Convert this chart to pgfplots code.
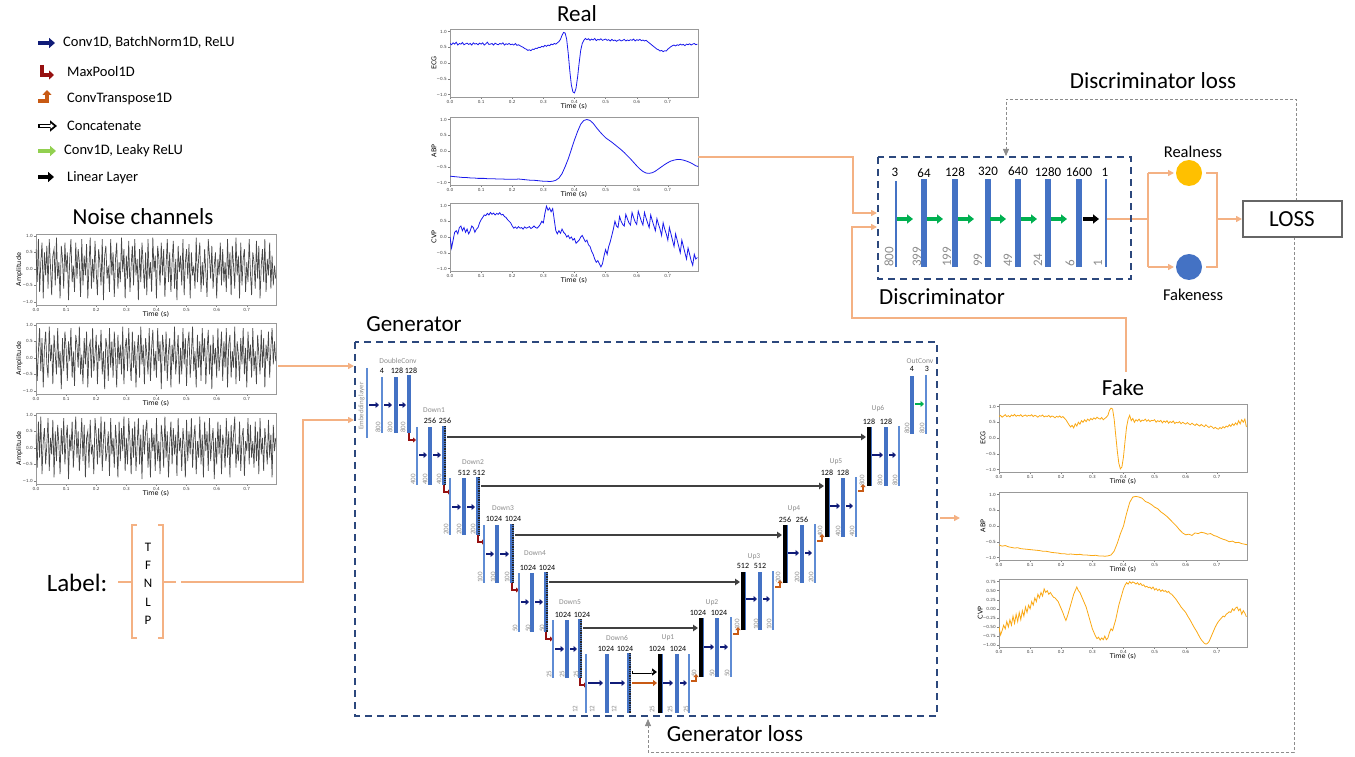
\documentclass[border=0pt]{standalone}
\usepackage{pgfplots}
\pgfplotsset{compat=1.18}
\usepackage{pgfplotstable}
\usepackage{fontspec}
\setmainfont{Carlito}
\newfontfamily\mpl{DejaVu Sans}
\usetikzlibrary{arrows.meta}

\definecolor{navy}{RGB}{16,28,120}
\definecolor{maxred}{RGB}{150,16,16}
\definecolor{ctorange}{RGB}{200,90,20}
\definecolor{lgreen}{RGB}{146,208,80}
\definecolor{dgreen}{RGB}{0,176,80}
\definecolor{barblue}{RGB}{68,114,196}
\definecolor{thinblue}{RGB}{95,140,212}
\definecolor{peach}{RGB}{244,177,131}
\definecolor{boxblue}{RGB}{44,72,125}
\definecolor{skipgray}{RGB}{64,64,64}
\definecolor{lossgray}{RGB}{140,140,140}
\definecolor{realblue}{RGB}{25,25,235}
\definecolor{fakeorange}{RGB}{250,168,20}
\definecolor{sunny}{RGB}{255,192,0}

% ---------- noise channels (uniform noise, 250 Hz) ----------
\pgfplotstableread[row sep=\\,header=false]{
0.6\\-0.4\\0.9\\-0.7\\0.2\\0.8\\-0.9\\0.5\\-0.2\\0.7\\-0.6\\0.9\\0.1\\-0.8\\0.4\\0.6\\-0.5\\0.95\\-0.3\\0.2\\
-0.9\\0.7\\0.3\\-0.6\\0.8\\-0.1\\0.5\\-0.95\\0.3\\0.9\\-0.4\\0.1\\-0.7\\0.8\\-0.3\\0.6\\0.2\\-0.85\\0.9\\-0.5\\
0.4\\-0.2\\0.75\\-0.9\\0.1\\0.95\\-0.6\\0.3\\-0.4\\0.85\\-0.1\\-0.8\\0.6\\0.2\\-0.5\\0.9\\-0.95\\0.4\\0.7\\-0.3\\
0.1\\-0.7\\0.9\\-0.2\\0.5\\-0.85\\0.3\\0.8\\-0.6\\0.2\\-0.4\\0.95\\-0.1\\0.6\\-0.9\\0.4\\-0.3\\0.85\\-0.7\\0.1\\
0.7\\-0.5\\0.9\\-0.2\\0.3\\-0.95\\0.6\\-0.4\\0.8\\0.1\\-0.6\\0.5\\-0.8\\0.9\\-0.3\\0.2\\-0.7\\0.95\\-0.1\\0.4\\
-0.9\\0.7\\0.3\\-0.5\\0.8\\-0.2\\0.6\\-0.85\\0.1\\0.9\\-0.4\\0.5\\-0.7\\0.2\\0.85\\-0.6\\0.3\\-0.95\\0.7\\-0.1\\
0.4\\-0.5\\0.9\\-0.8\\0.2\\0.6\\-0.3\\0.75\\-0.9\\0.5\\-0.2\\0.1\\-0.6\\0.95\\-0.4\\0.3\\0.8\\-0.7\\0.2\\-0.5\\
0.6\\-0.1\\-0.85\\0.9\\0.4\\-0.3\\0.7\\-0.6\\0.1\\0.5\\-0.9\\0.3\\-0.2\\0.8\\-0.5\\0.6\\-0.4\\0.2\\-0.7\\0.9\\
-0.3\\0.5\\-0.8\\0.7\\0.1\\-0.6\\0.95\\-0.2\\0.4\\-0.9\\0.8\\-0.5\\0.3\\0.6\\-0.7\\0.2\\-0.4\\0.9\\-0.1\\-0.8\\
0.5\\0.2\\-0.6\\0.85\\-0.3\\0.7\\-0.9\\0.1\\0.6\\-0.4\\0.9\\-0.7\\0.3\\-0.2\\0.8\\-0.6\\0.4\\-0.5\\0.1\\-0.3\\
}\noiseA
\pgfplotstableread[row sep=\\,header=false]{
0.5\\-0.7\\0.2\\0.9\\-0.4\\0.6\\-0.9\\0.3\\0.8\\-0.2\\-0.6\\0.95\\-0.1\\0.4\\-0.8\\0.7\\0.1\\-0.5\\0.9\\-0.3\\
0.2\\-0.95\\0.6\\-0.4\\0.8\\0.3\\-0.7\\0.5\\-0.1\\0.9\\-0.6\\0.2\\-0.85\\0.7\\0.4\\-0.3\\0.95\\-0.5\\0.1\\-0.8\\
0.6\\-0.2\\0.8\\-0.9\\0.3\\0.5\\-0.6\\0.9\\-0.4\\0.1\\0.7\\-0.8\\0.4\\-0.1\\0.85\\-0.5\\0.2\\-0.95\\0.6\\0.3\\
-0.7\\0.9\\-0.3\\0.5\\-0.6\\0.8\\0.1\\-0.9\\0.7\\-0.2\\0.4\\-0.5\\0.95\\-0.8\\0.3\\0.6\\-0.4\\0.9\\-0.1\\-0.7\\
0.8\\-0.3\\0.5\\-0.9\\0.2\\0.7\\-0.6\\0.95\\-0.2\\0.4\\-0.8\\0.6\\0.1\\-0.5\\0.9\\-0.7\\0.3\\0.85\\-0.4\\0.2\\
-0.6\\0.9\\-0.1\\0.5\\-0.95\\0.7\\0.3\\-0.4\\0.8\\-0.7\\0.2\\0.6\\-0.9\\0.4\\-0.2\\0.95\\-0.5\\0.1\\0.7\\-0.8\\
0.3\\-0.5\\0.9\\-0.2\\0.6\\-0.85\\0.4\\0.8\\-0.6\\0.1\\0.95\\-0.4\\0.2\\-0.9\\0.7\\-0.3\\0.5\\-0.7\\0.9\\-0.1\\
0.6\\-0.8\\0.2\\0.85\\-0.5\\0.4\\-0.95\\0.7\\-0.2\\0.3\\-0.6\\0.9\\-0.4\\0.1\\0.8\\-0.7\\0.5\\-0.3\\0.9\\-0.9\\
0.4\\0.7\\-0.6\\0.2\\-0.3\\0.95\\-0.8\\0.5\\0.1\\-0.7\\0.6\\-0.2\\0.9\\-0.5\\0.3\\-0.9\\0.8\\-0.1\\0.4\\-0.6\\
0.9\\-0.4\\0.2\\-0.8\\0.7\\0.1\\-0.5\\0.85\\-0.3\\0.6\\-0.9\\0.4\\-0.1\\0.8\\-0.6\\0.3\\0.9\\-0.2\\0.5\\-0.1\\
}\noiseB
\pgfplotstableread[row sep=\\,header=false]{
0.4\\-0.6\\0.8\\-0.3\\0.95\\-0.8\\0.2\\0.6\\-0.5\\0.1\\0.9\\-0.7\\0.3\\-0.2\\0.85\\-0.9\\0.5\\-0.4\\0.7\\0.1\\
-0.8\\0.6\\-0.2\\0.9\\-0.5\\0.3\\0.7\\-0.95\\0.4\\-0.1\\0.8\\-0.6\\0.2\\0.95\\-0.3\\0.5\\-0.7\\0.1\\0.9\\-0.4\\
0.7\\-0.9\\0.3\\0.5\\-0.6\\0.85\\-0.2\\0.1\\-0.8\\0.9\\0.4\\-0.5\\0.6\\-0.3\\0.95\\-0.7\\0.2\\0.8\\-0.4\\-0.1\\
0.5\\-0.85\\0.9\\-0.2\\0.3\\-0.6\\0.7\\0.1\\-0.9\\0.8\\-0.4\\0.6\\-0.1\\0.95\\-0.7\\0.3\\-0.5\\0.9\\0.2\\-0.8\\
0.6\\-0.3\\0.8\\-0.7\\0.1\\0.9\\-0.5\\0.4\\-0.95\\0.7\\-0.2\\0.5\\0.85\\-0.6\\0.3\\-0.9\\0.6\\-0.1\\0.4\\-0.7\\
0.9\\-0.4\\0.2\\-0.8\\0.7\\0.3\\-0.6\\0.95\\-0.3\\0.5\\-0.9\\0.1\\0.8\\-0.5\\0.6\\-0.2\\0.4\\-0.85\\0.9\\-0.1\\
0.3\\-0.7\\0.6\\0.1\\-0.9\\0.85\\-0.4\\0.5\\-0.2\\0.9\\-0.6\\0.3\\0.7\\-0.8\\0.2\\-0.3\\0.95\\-0.5\\0.4\\-0.9\\
0.8\\-0.1\\0.5\\-0.7\\0.9\\-0.4\\0.2\\0.6\\-0.95\\0.3\\-0.5\\0.8\\-0.2\\0.7\\-0.8\\0.4\\0.1\\-0.6\\0.9\\-0.3\\
0.5\\-0.9\\0.7\\-0.2\\0.4\\0.95\\-0.6\\0.1\\-0.4\\0.8\\-0.7\\0.3\\0.6\\-0.85\\0.2\\-0.1\\0.9\\-0.5\\0.7\\-0.3\\
0.2\\-0.6\\0.8\\-0.4\\0.5\\-0.8\\0.9\\-0.2\\0.3\\-0.7\\0.6\\0.1\\-0.5\\0.85\\-0.3\\0.4\\-0.9\\0.7\\-0.1\\0.3\\
}\noiseC

% ---------- real signals ----------
% ECG, 200 Hz
\pgfplotstableread[row sep=\\,header=false]{
0.62\\0.58\\0.64\\0.6\\0.66\\0.57\\0.62\\0.6\\0.65\\0.58\\0.61\\0.63\\0.59\\0.62\\0.57\\0.64\\0.6\\0.62\\0.58\\0.63\\
0.6\\0.64\\0.57\\0.61\\0.66\\0.59\\0.6\\0.62\\0.57\\0.63\\0.6\\0.58\\0.62\\0.6\\0.64\\0.57\\0.61\\0.59\\0.62\\0.58\\
0.6\\0.57\\0.62\\0.56\\0.58\\0.55\\0.52\\0.5\\0.46\\0.44\\0.4\\0.42\\0.39\\0.44\\0.43\\0.47\\0.46\\0.5\\0.49\\0.53\\
0.51\\0.56\\0.53\\0.57\\0.55\\0.6\\0.58\\0.62\\0.6\\0.64\\0.68\\0.75\\0.88\\0.97\\0.95\\0.75\\0.3\\-0.25\\-0.7\\-0.92\\
-0.95\\-0.8\\-0.45\\0.0\\0.4\\0.62\\0.72\\0.78\\0.74\\0.77\\0.72\\0.76\\0.73\\0.78\\0.71\\0.75\\0.73\\0.77\\0.72\\0.74\\
0.76\\0.72\\0.74\\0.7\\0.75\\0.71\\0.73\\0.69\\0.72\\0.74\\0.7\\0.72\\0.75\\0.7\\0.73\\0.71\\0.74\\0.72\\0.76\\0.7\\
0.74\\0.72\\0.75\\0.71\\0.73\\0.7\\0.72\\0.68\\0.64\\0.6\\0.56\\0.52\\0.48\\0.44\\0.42\\0.38\\0.4\\0.36\\0.39\\0.38\\
0.44\\0.48\\0.52\\0.55\\0.57\\0.54\\0.58\\0.56\\0.6\\0.57\\0.59\\0.55\\0.6\\0.58\\0.61\\0.57\\0.6\\0.62\\0.58\\0.6\\
}\realECG
% ABP, 100 Hz
\pgfplotstableread[row sep=\\,header=false]{
-0.8\\-0.81\\-0.82\\-0.83\\-0.84\\-0.84\\-0.85\\-0.86\\-0.86\\-0.87\\-0.87\\-0.87\\-0.88\\-0.88\\-0.88\\-0.89\\-0.89\\-0.89\\-0.9\\-0.9\\
-0.9\\-0.9\\-0.89\\-0.9\\-0.91\\-0.92\\-0.93\\-0.93\\-0.94\\-0.95\\-0.96\\-0.96\\-0.97\\-0.96\\-0.93\\-0.86\\-0.72\\-0.5\\-0.25\\0.05\\
0.35\\0.62\\0.85\\0.97\\1.0\\0.97\\0.88\\0.75\\0.63\\0.52\\0.42\\0.35\\0.28\\0.2\\0.12\\0.04\\-0.05\\-0.15\\-0.25\\-0.36\\
-0.47\\-0.57\\-0.65\\-0.7\\-0.71\\-0.69\\-0.64\\-0.57\\-0.5\\-0.43\\-0.37\\-0.32\\-0.29\\-0.27\\-0.27\\-0.29\\-0.32\\-0.36\\-0.41\\-0.47\\
-0.5\\
}\realABP
% CVP, 200 Hz
\pgfplotstableread[row sep=\\,header=false]{
0.0\\-0.35\\-0.1\\0.15\\0.2\\0.1\\0.3\\0.35\\0.2\\0.3\\0.15\\0.25\\0.1\\0.2\\0.35\\0.3\\0.15\\0.25\\0.3\\0.45\\
0.55\\0.62\\0.7\\0.68\\0.75\\0.7\\0.78\\0.72\\0.76\\0.7\\0.75\\0.72\\0.77\\0.7\\0.72\\0.65\\0.62\\0.55\\0.5\\0.45\\
0.35\\0.28\\0.32\\0.27\\0.33\\0.28\\0.3\\0.25\\0.32\\0.28\\0.3\\0.33\\0.27\\0.3\\0.35\\0.3\\0.28\\0.33\\0.4\\0.5\\
0.45\\0.75\\0.98\\0.85\\0.92\\0.8\\0.9\\0.55\\0.2\\0.1\\0.2\\0.12\\0.25\\0.15\\0.1\\0.0\\0.05\\-0.05\\0.0\\-0.1\\
-0.05\\-0.2\\-0.15\\-0.1\\0.0\\0.05\\-0.05\\-0.15\\-0.1\\-0.25\\-0.3\\-0.45\\-0.55\\-0.7\\-0.8\\-0.75\\-0.85\\-0.95\\-0.85\\-0.6\\
-0.4\\-0.55\\-0.3\\-0.15\\0.05\\0.25\\0.5\\0.35\\0.3\\0.65\\0.5\\0.4\\0.35\\0.72\\0.58\\0.45\\0.38\\0.78\\0.62\\0.48\\
0.4\\0.82\\0.66\\0.5\\0.38\\0.78\\0.6\\0.45\\0.3\\0.7\\0.52\\0.36\\0.2\\0.58\\0.4\\0.25\\0.05\\0.45\\0.25\\0.1\\
-0.1\\0.3\\0.1\\-0.1\\-0.3\\0.1\\-0.1\\-0.3\\-0.5\\-0.1\\-0.3\\-0.5\\-0.7\\-0.35\\-0.55\\-0.75\\-0.9\\-0.55\\-0.7\\-0.65\\
}\realCVP

% ---------- generated signals ----------
\pgfplotstableread[row sep=\\,header=false]{
0.68\\0.72\\0.66\\0.7\\0.74\\0.68\\0.71\\0.67\\0.73\\0.7\\0.75\\0.69\\0.72\\0.7\\0.74\\0.68\\0.71\\0.73\\0.69\\0.72\\
0.7\\0.74\\0.68\\0.72\\0.7\\0.66\\0.71\\0.69\\0.73\\0.67\\0.7\\0.68\\0.72\\0.66\\0.7\\0.68\\0.64\\0.69\\0.66\\0.7\\
0.65\\0.68\\0.63\\0.58\\0.5\\0.42\\0.35\\0.4\\0.32\\0.45\\0.38\\0.5\\0.44\\0.55\\0.5\\0.58\\0.52\\0.6\\0.55\\0.62\\
0.58\\0.64\\0.6\\0.66\\0.62\\0.6\\0.65\\0.58\\0.62\\0.66\\0.72\\0.88\\0.95\\0.92\\0.6\\0.1\\-0.4\\-0.8\\-0.98\\-0.92\\
-0.6\\-0.1\\0.35\\0.6\\0.72\\0.55\\0.62\\0.5\\0.58\\0.54\\0.6\\0.52\\0.57\\0.55\\0.6\\0.53\\0.58\\0.52\\0.56\\0.55\\
0.58\\0.5\\0.55\\0.52\\0.56\\0.48\\0.54\\0.5\\0.55\\0.47\\0.52\\0.49\\0.54\\0.46\\0.5\\0.48\\0.52\\0.45\\0.5\\0.47\\
0.44\\0.49\\0.45\\0.42\\0.47\\0.43\\0.4\\0.45\\0.41\\0.38\\0.43\\0.39\\0.36\\0.42\\0.37\\0.33\\0.38\\0.35\\0.3\\0.34\\
0.3\\0.28\\0.33\\0.3\\0.36\\0.32\\0.38\\0.35\\0.42\\0.37\\0.45\\0.4\\0.48\\0.42\\0.55\\0.45\\0.58\\0.5\\0.6\\0.35\\
}\fakeECG
\pgfplotstableread[row sep=\\,header=false]{
-0.6\\-0.64\\-0.62\\-0.66\\-0.68\\-0.7\\-0.69\\-0.72\\-0.73\\-0.74\\-0.75\\-0.76\\-0.77\\-0.78\\-0.8\\-0.8\\-0.82\\-0.84\\-0.85\\-0.86\\
-0.88\\-0.88\\-0.9\\-0.89\\-0.9\\-0.91\\-0.9\\-0.92\\-0.92\\-0.93\\-0.94\\-0.93\\-0.95\\-0.95\\-0.96\\-0.95\\-0.92\\-0.8\\-0.55\\-0.25\\
0.0\\0.4\\0.75\\0.92\\0.94\\0.92\\0.88\\0.78\\0.74\\0.68\\0.6\\0.55\\0.45\\0.38\\0.3\\0.2\\0.1\\0.0\\-0.12\\-0.22\\
-0.28\\-0.26\\-0.3\\-0.22\\-0.24\\-0.2\\-0.22\\-0.26\\-0.24\\-0.3\\-0.33\\-0.38\\-0.42\\-0.45\\-0.5\\-0.48\\-0.53\\-0.52\\-0.56\\-0.58\\
-0.6\\
}\fakeABP
\pgfplotstableread[row sep=\\,header=false]{
-0.5\\-0.72\\-0.6\\-0.45\\-0.55\\-0.35\\-0.5\\-0.3\\-0.45\\-0.2\\-0.4\\-0.15\\-0.35\\-0.1\\-0.3\\-0.05\\-0.2\\0.05\\-0.1\\0.1\\
0.0\\0.2\\0.1\\0.3\\0.2\\0.4\\0.3\\0.45\\0.35\\0.55\\0.45\\0.5\\0.4\\0.45\\0.38\\0.32\\0.3\\0.25\\0.2\\0.1\\
0.0\\-0.1\\-0.22\\-0.32\\-0.2\\-0.05\\0.1\\0.25\\0.4\\0.5\\0.6\\0.5\\0.45\\0.35\\0.25\\0.15\\0.05\\-0.1\\-0.25\\-0.4\\
-0.55\\-0.65\\-0.75\\-0.82\\-0.78\\-0.86\\-0.8\\-0.85\\-0.75\\-0.85\\-0.8\\-0.65\\-0.55\\-0.6\\-0.45\\-0.3\\-0.1\\0.1\\0.25\\0.4\\
0.55\\0.65\\0.72\\0.68\\0.75\\0.7\\0.74\\0.72\\0.68\\0.72\\0.66\\0.7\\0.64\\0.66\\0.6\\0.62\\0.58\\0.6\\0.55\\0.6\\
0.52\\0.56\\0.5\\0.54\\0.48\\0.52\\0.48\\0.5\\0.45\\0.48\\0.42\\0.4\\0.35\\0.3\\0.25\\0.18\\0.12\\0.05\\0.0\\-0.05\\
-0.1\\-0.18\\-0.25\\-0.32\\-0.4\\-0.48\\-0.55\\-0.62\\-0.7\\-0.78\\-0.85\\-0.9\\-0.95\\-0.97\\-0.95\\-0.9\\-0.8\\-0.7\\-0.6\\-0.5\\
-0.42\\-0.35\\-0.3\\-0.25\\-0.2\\-0.22\\-0.15\\-0.12\\-0.08\\-0.1\\0.0\\-0.05\\0.02\\0.05\\-0.05\\0.0\\-0.15\\-0.05\\-0.12\\-0.22\\
}\fakeCVP

\pgfplotsset{
  mplax/.style={
    scale only axis, width=248pt, height=68pt, anchor=south west,
    xmin=0, xmax=0.797, ymin=-1.08, ymax=1.08,
    axis line style={black!40, line width=0.5pt},
    tick style={black!50, line width=0.4pt},
    major tick length=1.6pt, tick align=outside,
    xtick pos=bottom, ytick pos=left,
    xtick={0,0.1,0.2,0.3,0.4,0.5,0.6,0.7},
    xticklabels={0.0,0.1,0.2,0.3,0.4,0.5,0.6,0.7},
    ytick={-1,-0.5,0,0.5,1},
    yticklabels={−1.0,−0.5,0.0,0.5,1.0},
    tick label style={font=\mpl\fontsize{4.2}{5}\selectfont, text=black!75, inner sep=1.5pt},
    xlabel={Time (s)},
    xlabel style={font=\mpl\fontsize{6.5}{7}\selectfont, yshift=5pt},
    ylabel style={font=\mpl\fontsize{6.5}{7}\selectfont, yshift=-5pt},
  },
}

\newcommand{\numf}{\fontsize{8}{9}\selectfont}
\newcommand{\stgf}{\fontsize{7.5}{8}\selectfont}
\newcommand{\dimf}{\fontsize{7}{8}\selectfont}
% generator building blocks (x, top, bottom)
\newcommand{\tb}[3]{\draw[thinblue, line width=1.3pt] (#1,#2)--(#1,#3);}
\newcommand{\kb}[3]{\fill[barblue] (#1-2.3,#2) rectangle (#1+2.3,#3);}
\newcommand{\db}[3]{\fill[barblue] (#1-2.3,#2) rectangle (#1+2.3,#3);
  \draw[black!85, line width=1.5pt, dash pattern=on 0.9pt off 0.9pt] (#1+1,#2)--(#1+1,#3);}
\newcommand{\bb}[3]{\fill[black] (#1-2.5,#2) rectangle (#1+1.5,#3);
  \fill[barblue] (#1+1.5,#2) rectangle (#1+2.8,#3);}
% arrows
\newcommand{\na}[3]{\draw[navy, line width=2pt, -{Triangle[length=3.5pt,width=6pt]}] (#1,#3)--(#2,#3);}
\newcommand{\mpool}[2]{\draw[maxred, line width=1.8pt, -{Triangle[length=3pt,width=5pt]}] (#1,#2)--(#1,#2+7)--(#1+7,#2+7);}
\newcommand{\ctr}[2]{\draw[ctorange, line width=1.8pt, -{Triangle[length=3pt,width=5pt]}] (#1,#2)--(#1+5,#2)--(#1+5,#2-7);}
\newcommand{\skipar}[3]{\draw[skipgray, line width=2.2pt, -{Triangle[length=5pt,width=6.5pt]}] (#1,#2)--(#3,#2);}
% labels
\newcommand{\dimlab}[3]{\node[rotate=90, anchor=west, font=\dimf, text=black!45, inner sep=0pt] at (#1,#2) {#3};}
\newcommand{\num}[3]{\node[font=\numf, inner sep=0pt] at (#1,#2) {#3};}
\newcommand{\stg}[3]{\node[font=\stgf, text=black!45, inner sep=0pt] at (#1,#2) {#3};}

\begin{document}
\begin{tikzpicture}[x=1pt,y=1pt]
\path[use as bounding box] (0,0) rectangle (1355,756);

% ---------- noise channels ----------
\begin{axis}[mplax, at={(36pt,451pt)}, width=240pt, height=71pt, ymin=-1.1, ymax=1.06, ylabel={Amplitude}]
\addplot[black!72, line width=0.7pt] table[x expr=\coordindex*0.004, y index=0] {\noiseA};
\end{axis}
\begin{axis}[mplax, at={(36pt,362pt)}, width=240pt, height=71pt, ymin=-1.1, ymax=1.06, ylabel={Amplitude}]
\addplot[black!72, line width=0.7pt] table[x expr=\coordindex*0.004, y index=0] {\noiseB};
\end{axis}
\begin{axis}[mplax, at={(36pt,272pt)}, width=240pt, height=71pt, ymin=-1.1, ymax=1.06, ylabel={Amplitude}]
\addplot[black!72, line width=0.7pt] table[x expr=\coordindex*0.004, y index=0] {\noiseC};
\end{axis}

% ---------- real signals ----------
\begin{axis}[mplax, at={(450pt,659pt)}, ylabel={ECG}]
\addplot[realblue, line width=0.8pt] table[x expr=\coordindex*0.005, y index=0] {\realECG};
\end{axis}
\begin{axis}[mplax, at={(450pt,571pt)}, ylabel={ABP}]
\addplot[realblue, line width=0.8pt] table[x expr=\coordindex*0.01, y index=0] {\realABP};
\end{axis}
\begin{axis}[mplax, at={(450pt,485pt)}, ylabel={CVP}]
\addplot[realblue, line width=0.8pt] table[x expr=\coordindex*0.005, y index=0] {\realCVP};
\end{axis}

% ---------- generated signals ----------
\begin{axis}[mplax, at={(999pt,284pt)}, ylabel={ECG}]
\addplot[fakeorange, line width=0.8pt] table[x expr=\coordindex*0.005, y index=0] {\fakeECG};
\end{axis}
\begin{axis}[mplax, at={(999pt,196pt)}, ylabel={ABP}]
\addplot[fakeorange, line width=0.8pt] table[x expr=\coordindex*0.01, y index=0] {\fakeABP};
\end{axis}
\begin{axis}[mplax, at={(999pt,109pt)}, ylabel={CVP}, ymin=-1.05, ymax=0.82,
  ytick={-1,-0.75,-0.5,-0.25,0,0.25,0.5,0.75},
  yticklabels={−1.00,−0.75,−0.50,−0.25,0.00,0.25,0.50,0.75}]
\addplot[fakeorange, line width=0.8pt] table[x expr=\coordindex*0.005, y index=0] {\fakeCVP};
\end{axis}

% ---------- diagram (y measured downward from the top edge) ----------
\begin{scope}[x=1pt, y=-1pt, yshift=756pt]

% legend
\draw[navy, line width=4pt, -{Triangle[length=6pt,width=10pt]}] (38,43)--(55,43);
\draw[maxred, line width=3.5pt, miter limit=4, -{Triangle[length=5pt,width=9pt]}] (42,65)--(42,75)--(54,75);
\draw[ctorange, line width=3.5pt, -{Triangle[length=5pt,width=9pt]}] (38,101)--(47,101)--(47,90);
\draw[black, line width=4.5pt, -{Triangle[length=7pt,width=11pt]}] (38,126)--(57,126);
\draw[white, line width=2pt, -{Triangle[length=3.5pt,width=5.5pt]}] (39.5,126)--(54,126);
\draw[lgreen, line width=4pt, -{Triangle[length=6pt,width=10pt]}] (38,151)--(56,151);
\draw[black, line width=4pt, -{Triangle[length=6pt,width=10pt]}] (38,177)--(54,177);
\begin{scope}[every node/.style={anchor=west, font=\fontsize{14.5}{16}\selectfont, inner sep=0pt}]
\node at (63,42) {Conv1D, BatchNorm1D, ReLU};
\node at (67,72) {MaxPool1D};
\node at (67,99) {ConvTranspose1D};
\node at (67,126) {Concatenate};
\node at (64,151) {Conv1D, Leaky ReLU};
\node at (67,178) {Linear Layer};
\end{scope}

% titles
\begin{scope}[every node/.style={font=\fontsize{23}{27}\selectfont, inner sep=0pt}]
\node at (143,217) {Noise channels};
\node at (577,14) {Real};
\node at (1123,388) {Fake};
\node at (414,324) {Generator};
\node at (942,297) {Discriminator};
\node at (1153,81) {Discriminator loss};
\node at (735,734) {Generator loss};
\node at (1292,219) {LOSS};
\end{scope}
\node[font=\fontsize{25}{29}\selectfont, inner sep=0pt] at (77,583) {Label:};

% label vector
\draw[peach, line width=1.5pt] (137,525)--(132,525)--(132,638)--(137,638);
\draw[peach, line width=1.5pt] (158,525)--(163,525)--(163,638)--(158,638);
\begin{scope}[every node/.style={font=\fontsize{13}{15}\selectfont, inner sep=0pt}]
\node at (148,547) {T};
\node at (148,565) {F};
\node at (148,583) {N};
\node at (148,602) {L};
\node at (148,620) {P};
\end{scope}

% orange connections
\begin{scope}[peach, line width=1.5pt]
\draw (118,582)--(131,582);
\draw (163,582)--(176,582);
\draw[-{Triangle[length=6pt,width=6pt]}] (181,582)--(303,582)--(303,420)--(354,420);
\draw[-{Triangle[length=6pt,width=6pt]}] (278,366)--(354,366);
\draw[-{Triangle[length=6pt,width=6pt]}] (698,157)--(853,157)--(853,213)--(877,213);
\draw[-{Triangle[length=6pt,width=6pt]}] (1126,372)--(1126,318)--(852,318)--(852,227)--(877,227);
\draw[-{Triangle[length=6pt,width=6pt]}] (940,518)--(960,518);
\draw (1106,219)--(1148,219);
\draw (1148,173)--(1148,267);
\draw[-{Triangle[length=6pt,width=6pt]}] (1148,173)--(1174,173);
\draw[-{Triangle[length=6pt,width=6pt]}] (1148,267)--(1174,267);
\draw (1206,173)--(1217,173)--(1217,267)--(1206,267);
\draw[-{Triangle[length=6pt,width=6pt]}] (1217,219)--(1242,219);
\end{scope}

% loss feedback
\draw[lossgray, line width=0.8pt, dash pattern=on 3pt off 2pt, -{Triangle[length=7pt,width=6pt]}] (1296,201)--(1296,99)--(1006,99)--(1006,156);
\draw[lossgray, line width=0.8pt, dash pattern=on 3pt off 2pt, -{Triangle[length=7pt,width=6pt]}] (1294,237)--(1294,752)--(648,752)--(648,719);

% loss box and outputs
\draw[black!60, line width=1.2pt] (1243,201) rectangle (1342,237);
\fill[sunny] (1189,173) circle[radius=13pt];
\fill[barblue] (1189,267) circle[radius=13pt];
\node[font=\fontsize{16.5}{18}\selectfont, inner sep=0pt] at (1193,152) {Realness};
\node[font=\fontsize{16.5}{18}\selectfont, inner sep=0pt] at (1193,295) {Fakeness};

% ---------- discriminator ----------
\draw[boxblue, line width=1.8pt, dash pattern=on 7pt off 5pt] (878,157) rectangle (1131,279);
\draw[barblue, line width=1.6pt] (896,181)--(896,267);
\foreach \xx in {924,955,988,1018,1048,1079}
  \fill[barblue] (\xx-2.7,179) rectangle (\xx+2.7,267);
\draw[barblue, line width=1.6pt] (1106,179)--(1106,267);
\foreach \xa in {897,927,958,990,1021,1051}
  \draw[dgreen, line width=3.5pt, -{Triangle[length=6pt,width=9pt]}] (\xa,219)--(\xa+16,219);
\draw[black, line width=3.5pt, -{Triangle[length=6pt,width=9pt]}] (1083,219)--(1099,219);
\begin{scope}[every node/.style={font=\fontsize{13}{15}\selectfont, inner sep=0pt}]
\node at (895,172) {3};
\node at (924,173) {64};
\node at (955,172) {128};
\node at (988,171) {320};
\node at (1018,171) {640};
\node at (1048,172) {1280};
\node at (1079,172) {1600};
\node at (1105,172) {1};
\end{scope}
\begin{scope}[every node/.style={rotate=90, anchor=west, font=\fontsize{13}{15}\selectfont, text=black!45, inner sep=0pt}]
\node at (889,267) {800};
\node at (917,267) {399};
\node at (947,267) {199};
\node at (978,267) {99};
\node at (1008,267) {49};
\node at (1038,267) {24};
\node at (1070,267) {6};
\node at (1098,267) {1};
\end{scope}

% ---------- generator ----------
\draw[boxblue, line width=1.8pt, dash pattern=on 7pt off 5pt] (355,342) rectangle (937,716);

% DoubleConv
\tb{367}{368}{438}
\node[rotate=90, font=\fontsize{7}{8}\selectfont, text=black!45, inner sep=0pt] at (361.5,406) {Embedding layer};
\tb{382}{377}{433} \kb{396}{377}{433} \kb{409}{375}{433}
\num{382}{371}{4} \num{397}{371}{128} \num{411}{371}{128}
\stg{398}{361}{DoubleConv}
\na{369}{379}{405} \na{384}{392}{405} \na{399}{406}{405}
\dimlab{378}{433}{800} \dimlab{390}{433}{800} \dimlab{403}{433}{800}
\mpool{409}{433}

% Down1
\tb{417}{427}{485} \kb{430}{427}{485} \db{444}{426}{485}
\num{430}{421}{256} \num{445}{421}{256} \stg{434}{410}{Down1}
\na{419}{427}{455} \na{433}{441}{455}
\dimlab{413}{485}{400} \dimlab{425}{485}{400} \dimlab{439}{485}{400}
\mpool{444}{485}
\skipar{447}{437}{866}

% Down2
\tb{450}{478}{535} \kb{464}{478}{535} \db{478}{477}{535}
\num{464}{473}{512} \num{479}{473}{512} \stg{473}{462}{Down2}
\na{452}{461}{507} \na{467}{475}{507}
\dimlab{446}{535}{200} \dimlab{459}{535}{200} \dimlab{473}{535}{200}
\mpool{478}{535}
\skipar{481}{486}{824}

% Down3
\tb{484}{525}{583} \kb{497}{525}{583} \db{512}{524}{583}
\num{494}{519}{1024} \num{513}{519}{1024} \stg{503}{508}{Down3}
\na{486}{494}{554} \na{500}{509}{554}
\dimlab{480}{583}{100} \dimlab{493}{583}{100} \dimlab{507}{583}{100}
\mpool{512}{583}
\skipar{515}{535}{782}

% Down4
\tb{519}{573}{632} \kb{532}{573}{632} \db{546}{572}{632}
\num{528}{568}{1024} \num{547}{568}{1024} \stg{535}{553}{Down4}
\na{521}{529}{602} \na{535}{543}{602}
\dimlab{515}{632}{50} \dimlab{528}{632}{50} \dimlab{542}{632}{50}
\mpool{546}{632}
\skipar{549}{582}{740}

% Down5
\tb{553}{620}{678} \kb{567}{620}{678} \db{580}{619}{678}
\num{563}{615}{1024} \num{582}{615}{1024} \stg{570}{602}{Down5}
\na{555}{564}{649} \na{570}{577}{649}
\dimlab{549}{678}{25} \dimlab{562}{678}{25} \dimlab{576}{678}{25}
\mpool{580}{678}
\skipar{583}{628}{698}

% Down6
\tb{586}{654}{713} \kb{607}{654}{713} \db{629}{653}{713}
\num{606}{649}{1024} \num{625}{649}{1024} \stg{617}{638}{Down6}
\na{588}{603}{683} \na{610}{625}{683}
\dimlab{575}{713}{12} \dimlab{592}{713}{12} \dimlab{614}{713}{12}
\draw[black, line width=3pt, -{Triangle[length=5pt,width=7pt]}] (632,672)--(657,672);
\draw[white, line width=1.2pt, -{Triangle[length=2.2pt,width=3pt]}] (633,672)--(653.5,672);
\draw[ctorange, line width=2.4pt, -{Triangle[length=4pt,width=6pt]}] (632,683)--(657,683);

% Up1
\bb{660}{654}{713} \kb{677}{654}{713} \tb{689}{654}{713}
\num{657}{649}{1024} \num{678}{649}{1024} \stg{668}{638}{Up1}
\na{663}{673}{683} \na{680}{687}{683}
\dimlab{652}{713}{25} \dimlab{670}{713}{25} \dimlab{686}{713}{25}
\ctr{691}{681}

% Up2
\bb{701}{618}{677} \kb{717}{618}{677} \tb{731}{617}{677}
\num{698}{613}{1024} \num{719}{613}{1024} \stg{712}{603}{Up2}
\na{704}{714}{647} \na{720}{728}{647}
\dimlab{694}{677}{50} \dimlab{712}{677}{50} \dimlab{727}{677}{50}
\ctr{733}{634}

% Up3
\bb{743}{572}{630} \kb{760}{572}{630} \tb{773}{571}{630}
\num{743}{566}{512} \num{760}{566}{512} \stg{754}{557}{Up3}
\na{746}{757}{599} \na{763}{770}{599}
\dimlab{737}{630}{100} \dimlab{756}{630}{100} \dimlab{769}{630}{100}
\ctr{775}{587}

% Up4
\bb{785}{525}{583} \kb{802}{525}{583} \tb{815}{524}{583}
\num{785}{520}{256} \num{802}{520}{256} \stg{794}{509}{Up4}
\na{788}{799}{553} \na{805}{812}{553}
\dimlab{778}{583}{200} \dimlab{797}{583}{200} \dimlab{811}{583}{200}
\ctr{817}{541}

% Up5
\bb{827}{478}{537} \kb{843}{478}{537} \tb{856}{477}{537}
\num{827}{473}{128} \num{843}{473}{128} \stg{836}{462}{Up5}
\na{830}{840}{506} \na{846}{853}{506}
\dimlab{820}{537}{400} \dimlab{838}{537}{400} \dimlab{852}{537}{400}
\ctr{858}{491}

% Up6
\bb{869}{427}{486} \kb{886}{427}{486} \tb{899}{426}{486}
\num{869}{422}{128} \num{886}{422}{128} \stg{878}{409}{Up6}
\na{872}{883}{455} \na{889}{896}{455}
\dimlab{862}{486}{800} \dimlab{880}{486}{800} \dimlab{895}{486}{800}

% OutConv
\kb{912}{376}{434} \tb{926}{375}{434}
\num{912}{369}{4} \num{927}{369}{3} \stg{920}{361}{OutConv}
\draw[dgreen, line width=2pt, -{Triangle[length=3.5pt,width=6pt]}] (915,404)--(924,404);
\dimlab{907}{434}{800} \dimlab{922}{434}{800}

\end{scope}
\end{tikzpicture}
\end{document}
